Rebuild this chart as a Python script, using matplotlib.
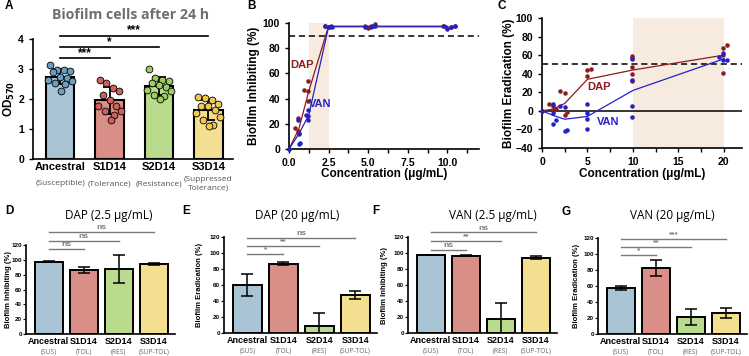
import numpy as np
import matplotlib.pyplot as plt

plt.rcParams['font.family'] = ['Liberation Sans', 'DejaVu Sans']
plt.rcParams['font.weight'] = 'bold'
plt.rcParams['axes.labelweight'] = 'bold'
plt.rcParams['axes.linewidth'] = 1.2

# ---- datos ----
strains = ['Ancestral', 'S1D14', 'S2D14', 'S3D14']
phen_long = ['(Susceptible)', '(Tolerance)', '(Resistance)', '(Suppressed\nTolerance)']
phen_short = ['(SUS)', '(TOL)', '(RES)', '(SUP-TOL)']
bar_colors = ['#a9c4d4', '#d98f88', '#badb8e', '#f4de90']
dot_colors = ['#6b9fc2', '#d0605a', '#9ccd5e', '#f0cb4f']

# Panel A: OD570 de cada replica
od_anc = [3.14, 2.98, 2.98, 2.94, 2.89, 2.73, 2.70, 2.64, 2.59, 2.55, 2.50, 2.26]
od_s1 = [2.65, 2.53, 2.37, 2.26, 2.14, 1.98, 1.78, 1.78, 1.59, 1.59, 1.45, 1.30]
od_s2 = [3.00, 2.70, 2.64, 2.60, 2.53, 2.48, 2.40, 2.31, 2.25, 2.14, 2.09, 2.00]
od_s3 = [2.06, 2.03, 1.98, 1.84, 1.76, 1.76, 1.64, 1.53, 1.40, 1.31, 1.14, 1.11]
sig_a = ['***', '*', '***']
sig_a_y = [3.37, 3.73, 4.11]

# Panel B: inhibicion
b_conc = [0, 0.625, 1.25, 2.5, 5, 10]
dap_inhib_mean = [0, 16, 46, 97.5, 97.5, 97.5]
van_inhib_mean = [0, 12, 27, 97, 97, 97]
dap_b_x = [0, 0.36, 0.59, 0.59, 0.64, 0.95, 1.23, 1.23, 1.23, 2.3, 2.5, 2.65, 4.8, 5.0, 5.2, 5.45, 9.75, 10.0, 10.2, 10.5]
dap_b_y = [0, 17, 25, 14, 13, 47, 54, 46, 38, 98, 97, 98, 98, 96, 98, 99, 98, 96, 97, 98]
van_b_x = [0, 0.59, 0.64, 0.64, 0.72, 1.05, 1.23, 1.23, 1.23, 2.25, 2.55, 2.7, 4.8, 5.2, 5.3, 5.45, 9.8, 10.0, 10.2, 10.5]
van_b_y = [0, 23, 12, 4, 5, 27, 31, 26, 23, 98, 97, 97, 97, 97, 98, 98, 98, 95, 97, 98]

# Panel C: erradicacion
c_conc = [0, 1.25, 2.5, 5, 10, 20]
dap_erad_mean = [0, 2, 8, 34, 44, 60]
van_erad_mean = [0, -5, -9, -6, 22, 56]
dap_c_x = [0, 0.77, 1.2, 1.3, 1.5, 2.0, 2.5, 2.5, 2.7, 4.9, 4.9, 5.4, 9.9, 9.9, 9.9, 9.9, 9.9, 19.9, 19.9, 20.3, 19.9]
dap_c_y = [0, 7, 5, 1, 2.5, 21, 19, -4, -1, 38, 44, 45, 59, 57, 47, 40, 32, 41, 68, 71, 60]
van_c_x = [0, 1.2, 1.2, 1.2, 1.5, 2.0, 2.5, 2.5, 2.7, 4.9, 4.9, 4.9, 4.9, 9.9, 9.9, 9.9, 9.9, 19.5, 19.9, 19.9, 20.3]
van_c_y = [0, 7, -2.5, -14, -10, 5, 4, -22, -21, 7.5, -2.5, -9, -19, 56, 33, 5, -7, 58, 62, 55, 55]

# Paneles D-G: media y desviacion
d_vals = [97.5, 86.5, 88, 94.5]
d_err = [0.5, 4, 19, 1]
e_vals = [60, 86.5, 8.5, 47]
e_err = [14, 2, 16, 5]
f_vals = [97.5, 96.5, 18, 94]
f_err = [0.5, 0.8, 20, 2]
g_vals = [57.5, 82, 21, 26]
g_err = [3, 10, 10, 6]
sig_d, sig_d_y = ['ns', 'ns', 'ns'], [115, 126, 138]
sig_e, sig_e_y = ['*', '**', 'ns'], [99, 109, 119]
sig_f, sig_f_y = ['ns', '**', 'ns'], [104, 115, 126]
sig_g, sig_g_y = ['*', '**', '***'], [99, 109, 119]

DAP_C = '#8b1c1c'
VAN_C = '#2222c8'
SHADE = '#f7ebe0'
SANS2 = ['Open Sans', 'DejaVu Sans']

W, H = 749, 356
fig = plt.figure(figsize=(W / 100, H / 100), dpi=100)


def px_axes(left, right, top, bottom):
    return fig.add_axes([left / W, 1 - bottom / H, (right - left) / W, (bottom - top) / H])


def clean(ax):
    ax.spines['top'].set_visible(False)
    ax.spines['right'].set_visible(False)


def sig_lines(ax, labels, heights, color, lw, fs, gap):
    for j, (lab, h) in enumerate(zip(labels, heights)):
        ax.plot([0, j + 1], [h, h], color=color, lw=lw, clip_on=False)
        ax.text((j + 1) / 2, h + gap, lab, ha='center', va='bottom',
                fontsize=fs, color=color, clip_on=False)


# ---------- A ----------
ax = px_axes(33, 233, 39, 159)
clean(ax)
od_all = [od_anc, od_s1, od_s2, od_s3]
means = [np.mean(v) for v in od_all]
sds = [np.std(v, ddof=1) for v in od_all]
x = np.arange(4)
ax.bar(x, means, width=0.58, color=bar_colors, edgecolor='black', linewidth=1.5, zorder=1)
ax.errorbar(x, means, yerr=sds, fmt='none', ecolor='black', elinewidth=1.3,
            capsize=5, capthick=1.3, zorder=2)
pattern = [-0.2, -0.07, 0.07, 0.2, -0.14, 0.0, 0.14, -0.24, 0.24, -0.1, 0.1, 0.02]
for i, vals in enumerate(od_all):
    xs = [i + pattern[k % len(pattern)] for k in range(len(vals))]
    ax.scatter(xs, vals, s=24, color=dot_colors[i], edgecolor='black', linewidth=0.6, zorder=3)
ax.set_xlim(-0.55, 3.5)
ax.set_ylim(0, 4)
ax.set_yticks([0, 1, 2, 3, 4])
ax.set_xticks(x)
ax.set_xticklabels(strains, fontsize=8)
ax.tick_params(axis='x', length=0, pad=2)
ax.tick_params(axis='y', labelsize=7.5, length=3, width=1)
ax.set_ylabel('OD$_{570}$', fontsize=8.5)
ax.yaxis.set_label_coords(-0.08, 0.5)
for i, p in enumerate(phen_long):
    ax.annotate(p, xy=(i, 0), xycoords=('data', 'axes fraction'), xytext=(0, -18),
                textcoords='offset points', ha='center', va='center', fontsize=6,
                fontweight='normal', color='#555555', family=SANS2)
sig_lines(ax, sig_a, sig_a_y, 'black', 1.2, 8.5, -0.03)
fig.text(131 / W, 1 - 15 / H, 'Biofilm cells after 24 h', ha='center', va='center',
         fontsize=10.2, color='#6e6e6e', family=SANS2)

# ---------- B ----------
ax = px_axes(289, 479, 23, 149)
clean(ax)
ax.axvspan(1.25, 2.5, color=SHADE, zorder=0, lw=0)
ax.axhline(90, color='black', ls='--', lw=1.1, dashes=(4, 2.5))
ax.plot(b_conc, dap_inhib_mean, color=DAP_C, lw=0.9)
ax.plot(b_conc, van_inhib_mean, color=VAN_C, lw=0.9)
ax.scatter(dap_b_x, dap_b_y, s=5, color=DAP_C, zorder=3, clip_on=False)
ax.scatter(van_b_x, van_b_y, s=5, color=VAN_C, zorder=3, clip_on=False)
ax.text(0.85, 67, 'DAP', color=DAP_C, fontsize=8, ha='center', va='center')
ax.text(2.0, 36, 'VAN', color=VAN_C, fontsize=8, ha='center', va='center')
ax.set_xlim(0, 12)
ax.set_ylim(0, 100)
ax.set_xticks([0, 2.5, 5, 7.5, 10])
ax.set_xticklabels(['0.0', '2.5', '5.0', '7.5', '10.0'])
ax.set_xticks(np.arange(1.25, 12, 2.5), minor=True)
ax.set_yticks(np.arange(0, 101, 20))
ax.tick_params(axis='both', which='major', labelsize=7.5, length=3, width=1)
ax.tick_params(axis='x', which='minor', length=3, width=1)
ax.set_ylabel('Biofilm Inhibiting (%)', fontsize=8.5)
ax.yaxis.set_label_coords(-0.15, 0.5)
ax.set_xlabel('Concentration (μg/mL)', fontsize=8.5)
ax.xaxis.set_label_coords(0.5, -0.15)

# ---------- C ----------
ax = px_axes(542, 742, 18, 148)
clean(ax)
ax.axvspan(10, 20, color=SHADE, zorder=0, lw=0)
ax.axhline(50, color='black', ls='--', lw=1.1, dashes=(4, 2.5))
ax.axhline(0, color='black', lw=1.1)
ax.plot(c_conc, dap_erad_mean, color=DAP_C, lw=0.9)
ax.plot(c_conc, van_erad_mean, color=VAN_C, lw=0.9)
ax.scatter(dap_c_x, dap_c_y, s=5, color=DAP_C, zorder=3, clip_on=False)
ax.scatter(van_c_x, van_c_y, s=5, color=VAN_C, zorder=3, clip_on=False)
ax.text(6.3, 26, 'DAP', color=DAP_C, fontsize=8, ha='center', va='center')
ax.text(7.3, -12.5, 'VAN', color=VAN_C, fontsize=8, ha='center', va='center')
ax.set_xlim(0, 22)
ax.set_ylim(-40, 100)
ax.set_xticks([0, 5, 10, 15, 20])
ax.set_xticks(np.arange(2.5, 22, 5), minor=True)
ax.set_yticks(np.arange(-40, 101, 20))
ax.tick_params(axis='both', which='major', labelsize=7.5, length=3, width=1)
ax.tick_params(axis='x', which='minor', length=3, width=1)
ax.set_ylabel('Biofilm Eradication (%)', fontsize=8.5)
ax.yaxis.set_label_coords(-0.135, 0.5)
ax.set_xlabel('Concentration (μg/mL)', fontsize=8.5)
ax.xaxis.set_label_coords(0.5, -0.15)

# ---------- D-G ----------
bottom_panels = [
    (26, 175, 245, 334, d_vals, d_err, sig_d, sig_d_y, 'Biofilm Inhibiting (%)', 'DAP (2.5 μg/mL)', 109, -0.097),
    (224, 377, 237, 333, e_vals, e_err, sig_e, sig_e_y, 'Biofilm Eradication (%)', 'DAP (20 μg/mL)', 297, -0.134),
    (408, 557, 237, 333, f_vals, f_err, sig_f, sig_f_y, 'Biofilm Inhibiting (%)', 'VAN (2.5 μg/mL)', 493, -0.131),
    (598, 747, 238, 334, g_vals, g_err, sig_g, sig_g_y, 'Biofilm Eradication (%)', 'VAN (20 μg/mL)', 672, -0.124),
]
for (l, r, t, b, vals, err, sig, sig_y, ylab, title, tx, lx) in bottom_panels:
    ax = px_axes(l, r, t, b)
    clean(ax)
    ax.bar(x, vals, width=0.8, color=bar_colors, edgecolor='black', linewidth=1.4, zorder=1)
    ax.errorbar(x, vals, yerr=err, fmt='none', ecolor='black', elinewidth=1.1,
                capsize=4.5, capthick=1.1, zorder=2)
    ax.set_xlim(-0.65, 3.6)
    ax.set_ylim(0, 120)
    ax.set_yticks(np.arange(0, 121, 20))
    ax.set_xticks(x)
    ax.set_xticklabels(strains, fontsize=6.5)
    ax.tick_params(axis='x', length=0, pad=2)
    ax.tick_params(axis='y', labelsize=4.5, length=2, width=0.8, pad=1)
    ax.set_ylabel(ylab, fontsize=5.5)
    ax.yaxis.set_label_coords(lx, 0.5)
    for i, p in enumerate(phen_short):
        ax.annotate(p, xy=(i, 0), xycoords=('data', 'axes fraction'), xytext=(0, -13),
                    textcoords='offset points', ha='center', va='center', fontsize=4.8,
                    fontweight='normal', color='#666666', family=SANS2)
    sig_lines(ax, sig, sig_y, '#7a7a7a', 1.0, 6, 0.5)
    fig.text(tx / W, 1 - 215 / H, title, ha='center', va='center', fontsize=8.5,
             fontweight='normal', family=SANS2)

# letras de panel
for lab, (lx, ly) in zip('ABCDEFG', [(5, 6), (247, 6), (497, 6), (5, 211), (182, 211), (372, 211), (562, 212)]):
    fig.text(lx / W, 1 - ly / H, lab, fontsize=8.5, ha='left', va='center')

fig.savefig('out.png', dpi=100)
